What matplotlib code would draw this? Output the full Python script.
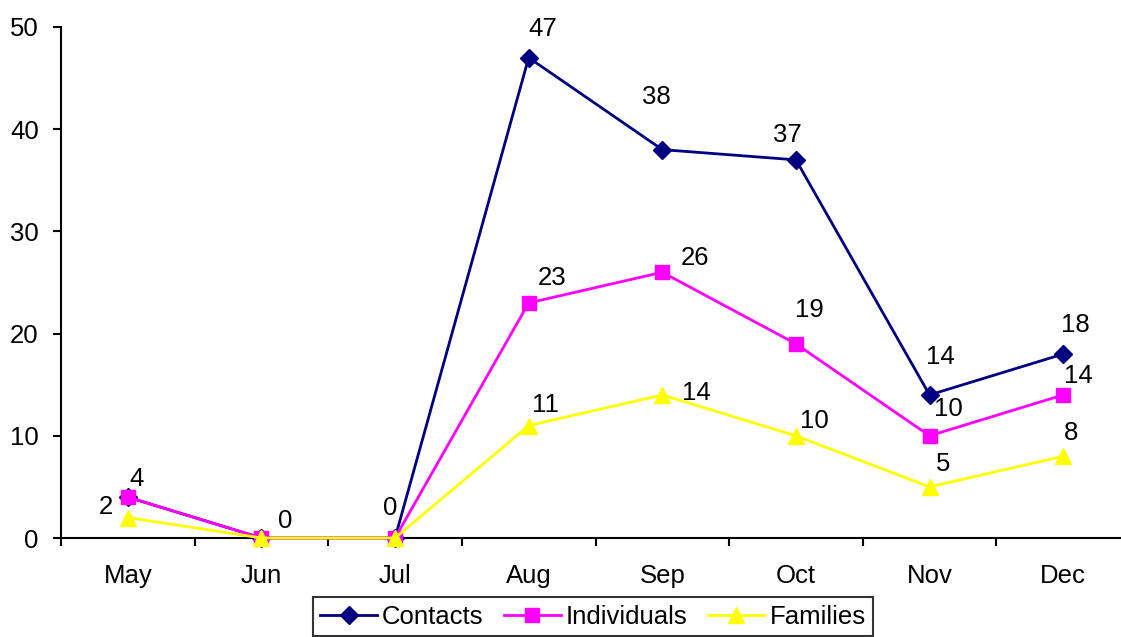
import matplotlib.pyplot as plt
import numpy as np

plt.rcParams['font.family'] = ['Liberation Sans', 'DejaVu Sans']

months = ['May', 'Jun', 'Jul', 'Aug', 'Sep', 'Oct', 'Nov', 'Dec']
contacts = [4, 0, 0, 47, 38, 37, 14, 18]
individuals = [4, 0, 0, 23, 26, 19, 10, 14]
families = [2, 0, 0, 11, 14, 10, 5, 8]

# label offsets in pixels (None = label hidden behind another series)
contacts_off = [None, (24, 17), (-5, 30), (14, 29), (-6, 53), (-9, 25), (11, 38), (12, 29)]
individuals_off = [(9, 18), None, None, (23, 25), (33, 14), (13, 34), (19, 27), (15, 19)]
families_off = [(-22, 11), None, None, (17, 21), (34, 2), (18, 15), (14, 23), (8, 23)]

FS = 18.5

fig = plt.figure(figsize=(11.21, 6.37), dpi=100)
ax = fig.add_axes([61 / 1121, 99 / 637, 1069 / 1121, 511 / 637])

x = np.arange(len(months))
ax.plot(x, contacts, color='#000080', lw=2, marker='D', ms=9, label='Contacts', clip_on=False, zorder=3)
ax.plot(x, individuals, color='#FF00FF', lw=2, marker='s', ms=10.5, label='Individuals', clip_on=False, zorder=4)
ax.plot(x, families, color='#FFFF00', lw=2, marker='^', ms=12, label='Families', clip_on=False, zorder=5)

for vals, offs in [(contacts, contacts_off), (individuals, individuals_off), (families, families_off)]:
    for xi, v, off in zip(x, vals, offs):
        if off is None:
            continue
        ax.annotate(str(v), (xi, v), xytext=off, textcoords='offset pixels',
                    ha='center', va='center', fontsize=FS)

ax.set_xlim(-0.5, len(months) - 0.5)
ax.set_ylim(0, 50)
ax.set_yticks(range(0, 51, 10))
ax.set_xticks(x)
ax.set_xticklabels(months)
ax.set_xticks(np.arange(-0.5, len(months), 1), minor=True)

ax.tick_params(axis='x', which='major', length=0, pad=19, labelsize=FS)
ax.tick_params(axis='x', which='minor', length=6, width=1.5, direction='out')
ax.tick_params(axis='y', length=6, width=1.5, direction='out', pad=10, labelsize=FS)

for side in ['top', 'right']:
    ax.spines[side].set_visible(False)
for side in ['left', 'bottom']:
    ax.spines[side].set_linewidth(1.5)

leg = fig.legend(loc='upper center', bbox_to_anchor=(593 / 1121, 1 - 597 / 637), ncol=3,
                 fontsize=FS, frameon=True, fancybox=False, edgecolor='black',
                 handlelength=2.2, handletextpad=0.2, columnspacing=0.8,
                 borderpad=0.3, borderaxespad=0)
leg.get_frame().set_linewidth(1.5)

fig.savefig('out.png', dpi=100)
